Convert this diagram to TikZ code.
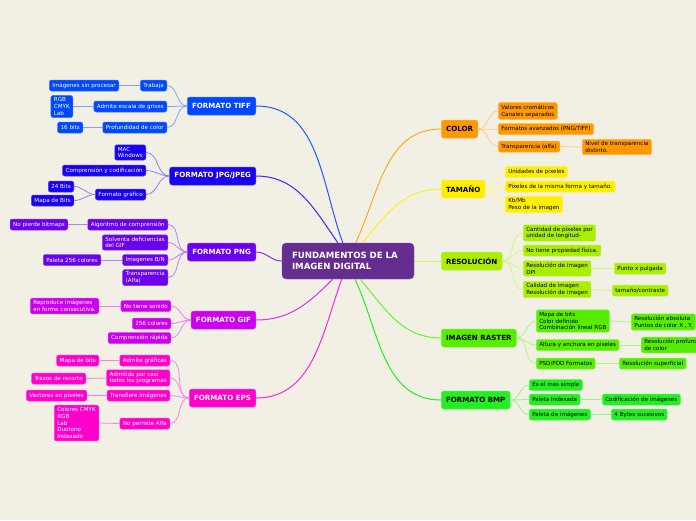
\documentclass[tikz,border=0pt]{standalone}
\usepackage{fontspec}
\setmainfont{DejaVu Sans}
\definecolor{bgc}{HTML}{F2F0E5}
\definecolor{ccen}{HTML}{662D91}
\definecolor{ctiff}{HTML}{0048FF}
\definecolor{cjpg}{HTML}{1A00F0}
\definecolor{cpng}{HTML}{6A00EE}
\definecolor{cgif}{HTML}{CC00EE}
\definecolor{ceps}{HTML}{FF00CC}
\definecolor{ccol}{HTML}{FF9900}
\definecolor{ctam}{HTML}{FFEE00}
\definecolor{cres}{HTML}{AAEE00}
\definecolor{cras}{HTML}{55EE00}
\definecolor{cbmp}{HTML}{22EE22}
\tikzset{
  box/.style={rounded corners=2pt, fill=#1, draw=#1!75!white, line width=0.5pt},
  sub/.style={box=#1, inner xsep=3pt, inner ysep=2.1pt, minimum height=11pt, align=left,
              font=\fontsize{5.6}{6.8}\selectfont},
  subL/.style={sub=#1, text=white, anchor=east},
  subR/.style={sub=#1, text=black, anchor=west},
  mainbox/.style={box=#1, rounded corners=2.5pt, inner xsep=4.8pt, minimum height=18pt,
              font=\fontsize{7.1}{8}\selectfont\bfseries},
  mainL/.style={mainbox=#1, text=white, anchor=east},
  mainR/.style={mainbox=#1, text=black, anchor=west},
  cen/.style={rounded corners=4pt, fill=ccen, draw=ccen!80!white, text=white, align=left,
              text width=112pt, inner xsep=10pt, minimum height=36pt,
              font=\fontsize{8.6}{11}\selectfont\bfseries},
  lk/.style={draw=#1, line width=1pt},
  slk/.style={draw=#1!50!white, line width=0.8pt},
}
\begin{document}
\begin{tikzpicture}[x=1pt,y=-1pt]
\useasboundingbox (0,0) rectangle (696,520);
\fill[bgc] (0,0) rectangle (696,520);

% central
\node[cen] (c) at (348,261) {FUNDAMENTOS DE LA\\IMAGEN DIGITAL};

% main left
\node[mainL=ctiff] (tiff) at (256,106) {FORMATO TIFF};
\node[mainL=cjpg] (jpg) at (256,176) {FORMATO JPG/JPEG};
\node[mainL=cpng] (png) at (256,252) {FORMATO PNG};
\node[mainL=cgif] (gif) at (256,320) {FORMATO GIF};
\node[mainL=ceps] (eps) at (256,398) {FORMATO EPS};
% main right
\node[mainR=ccol] (col) at (441,129) {COLOR};
\node[mainR=ctam] (tam) at (441,189) {TAMAÑO};
\node[mainR=cres] (res) at (441,261) {RESOLUCIÓN};
\node[mainR=cras] (ras) at (441,338) {IMAGEN RASTER};
\node[mainR=cbmp] (bmp) at (441,400) {FORMATO BMP};

% TIFF
\node[subL=ctiff] (t1) at (167,85.5) {Trabaja};
\node[subL=ctiff] (t1a) at (119,85.5) {Imágenes sin procesar};
\node[subL=ctiff] (t2) at (167,106.5) {Admite escala de grises};
\node[subL=ctiff] (t2a) at (73,106.5) {RGB\\CMYK\\Lab};
\node[subL=ctiff] (t3) at (167,127.5) {Profundidad de color};
\node[subL=ctiff] (t3a) at (83,127.5) {16 bits};
% JPG
\node[subL=cjpg] (j1) at (146,152.5) {MAC\\Windows};
\node[subL=cjpg] (j2) at (146,170.5) {Comprensión y codificación};
\node[subL=cjpg] (j3) at (146,194.5) {Formato gráfico};
\node[subL=cjpg] (j3a) at (74,186.5) {24 Bits};
\node[subL=cjpg] (j3b) at (74,200.5) {Mapa de Bits};
% PNG
\node[subL=cpng] (p1) at (168,224.5) {Algoritmo de comprensión};
\node[subL=cpng] (p1a) at (68,224.5) {No pierde bitmaps};
\node[subL=cpng] (p2) at (168,242.5) {Solventa deficiencias\\del GIF};
\node[subL=cpng] (p3) at (168,260) {Imagenes B/N};
\node[subL=cpng] (p3a) at (101,260) {Paleta 256 colores};
\node[subL=cpng] (p4) at (168,277.5) {Transparencia\\(Alfa)};
% GIF
\node[subL=cgif] (g1) at (171,306) {No tiene sonido};
\node[subL=cgif] (g1a) at (99,306) {Reproduce imágenes\\en forma consecutiva.};
\node[subL=cgif] (g2) at (171,323.5) {256 colores};
\node[subL=cgif] (g3) at (171,338) {Comprensión rápida};
% EPS
\node[subL=ceps] (e1) at (170,360.5) {Admite gráficas};
\node[subL=ceps] (e1a) at (99,360.5) {Mapa de bits};
\node[subL=ceps] (e2) at (170,378) {Admitido por casi\\todos los programas};
\node[subL=ceps] (e2a) at (86,378.5) {Trazos de recorte};
\node[subL=ceps] (e3) at (170,395.5) {Transfiere imágenes};
\node[subL=ceps] (e3a) at (87,395.5) {Vectores en pixeles};
\node[subL=ceps] (e4) at (170,423.5) {No permite Alfa};
\node[subL=ceps] (e4a) at (99,423) {Colores CMYK\\RGB\\Lab\\Duotono\\Indexado};

% COLOR
\node[subR=ccol] (c1) at (498,111) {Valores cromáticos\\Canales separados};
\node[subR=ccol] (c2) at (498,129) {Formatos avanzados (PNG/TIFF)};
\node[subR=ccol] (c3) at (498,146.5) {Transparencia (alfa)};
\node[subR=ccol] (c3a) at (582,147) {Nivel de transparencia\\distinto.};
% TAMAÑO
\node[subR=ctam] (s1) at (505,172) {Unidades de pixeles};
\node[subR=ctam] (s2) at (505,186.5) {Pixeles de la misma forma y tamaño.};
\node[subR=ctam] (s3) at (505,204.5) {Kb/Mb\\Peso de la imagen};
% RESOLUCION
\node[subR=cres] (r1) at (523,233) {Cantidad de pixeles por\\unidad de longitud-};
\node[subR=cres] (r2) at (523,250.5) {No tiene propiedad física.};
\node[subR=cres] (r3) at (523,268.5) {Resolución de imagen\\DPI};
\node[subR=cres] (r3a) at (614,268.5) {Punto x pulgada};
\node[subR=cres] (r4) at (523,289.5) {Calidad de imagen\\Resolución de imagen};
\node[subR=cres] (r4a) at (612,290.5) {tamaño/contraste};
% RASTER
\node[subR=cras] (i1) at (536,321) {Mapa de bits\\Color definido\\Combinación lineal RGB};
\node[subR=cras] (i1a) at (631,322) {Resolución absoluta\\Puntos de color X , Y.};
\node[subR=cras] (i2) at (536,345) {Altura y anchura en pixeles};
\node[subR=cras] (i2a) at (641,345) {Resolución profunda\\de color};
\node[subR=cras] (i3) at (536,363.5) {PSD/PDD Formatos};
\node[subR=cras] (i3a) at (619,363.5) {Resolución superficial};
% BMP
\node[subR=cbmp] (b1) at (529,385) {Es el mas simple};
\node[subR=cbmp] (b2) at (529,399.5) {Paleta Indexada};
\node[subR=cbmp] (b2a) at (602,399.5) {Codificación de imágenes};
\node[subR=cbmp] (b3) at (529,414.5) {Paleta de imágenes};
\node[subR=cbmp] (b3a) at (611,414.5) {4 Bytes sucesivos};

% central connectors
\draw[lk=ctiff!90!white] (tiff.east) to[out=0,in=110] (c.106);
\draw[lk=cjpg!85!white] (jpg.east) to[out=0,in=125] (c.119);
\draw[lk=cpng!80!white] (png.east) to[out=0,in=180] (c.west);
\draw[lk=cgif!80!white] (gif.east) to[out=0,in=225] (c.230);
\draw[lk=ceps!85!white] (eps.east) to[out=0,in=250] (c.251);
\draw[lk=ccol!85!white] (c.67) to[out=65,in=180] (col.west);
\draw[lk=ctam!90!white] (c.52) to[out=50,in=180] (tam.west);
\draw[lk=cres!80!white] (c.east) to[out=0,in=180] (res.west);
\draw[lk=cras!85!white] (c.304) to[out=-50,in=180] (ras.west);
\draw[lk=cbmp] (c.291) to[out=-65,in=180] (bmp.west);

% sub connectors left
\foreach \s in {t1,t2,t3} \draw[slk=ctiff] (tiff.west) to[out=180,in=0] (\s.east);
\draw[slk=ctiff] (t1.west) -- (t1a.east);
\draw[slk=ctiff] (t2.west) -- (t2a.east);
\draw[slk=ctiff] (t3.west) -- (t3a.east);
\foreach \s in {j1,j2,j3} \draw[slk=cjpg] (jpg.west) to[out=180,in=0] (\s.east);
\draw[slk=cjpg] (j3.west) to[out=180,in=0] (j3a.east);
\draw[slk=cjpg] (j3.west) to[out=180,in=0] (j3b.east);
\foreach \s in {p1,p2,p3,p4} \draw[slk=cpng] (png.west) to[out=180,in=0] (\s.east);
\draw[slk=cpng] (p1.west) -- (p1a.east);
\draw[slk=cpng] (p3.west) -- (p3a.east);
\foreach \s in {g1,g2,g3} \draw[slk=cgif] (gif.west) to[out=180,in=0] (\s.east);
\draw[slk=cgif] (g1.west) -- (g1a.east);
\foreach \s in {e1,e2,e3,e4} \draw[slk=ceps] (eps.west) to[out=180,in=0] (\s.east);
\draw[slk=ceps] (e1.west) -- (e1a.east);
\draw[slk=ceps] (e2.west) -- (e2a.east);
\draw[slk=ceps] (e3.west) -- (e3a.east);
\draw[slk=ceps] (e4.west) -- (e4a.east);

% sub connectors right
\foreach \s in {c1,c2,c3} \draw[slk=ccol] (col.east) to[out=0,in=180] (\s.west);
\draw[slk=ccol] (c3.east) -- (c3a.west);
\foreach \s in {s1,s2,s3} \draw[slk=ctam] (tam.east) to[out=0,in=180] (\s.west);
\foreach \s in {r1,r2,r3,r4} \draw[slk=cres] (res.east) to[out=0,in=180] (\s.west);
\draw[slk=cres] (r3.east) -- (r3a.west);
\draw[slk=cres] (r4.east) -- (r4a.west);
\foreach \s in {i1,i2,i3} \draw[slk=cras] (ras.east) to[out=0,in=180] (\s.west);
\draw[slk=cras] (i1.east) -- (i1a.west);
\draw[slk=cras] (i2.east) -- (i2a.west);
\draw[slk=cras] (i3.east) -- (i3a.west);
\foreach \s in {b1,b2,b3} \draw[slk=cbmp] (bmp.east) to[out=0,in=180] (\s.west);
\draw[slk=cbmp] (b2.east) -- (b2a.west);
\draw[slk=cbmp] (b3.east) -- (b3a.west);
\end{tikzpicture}
\end{document}
